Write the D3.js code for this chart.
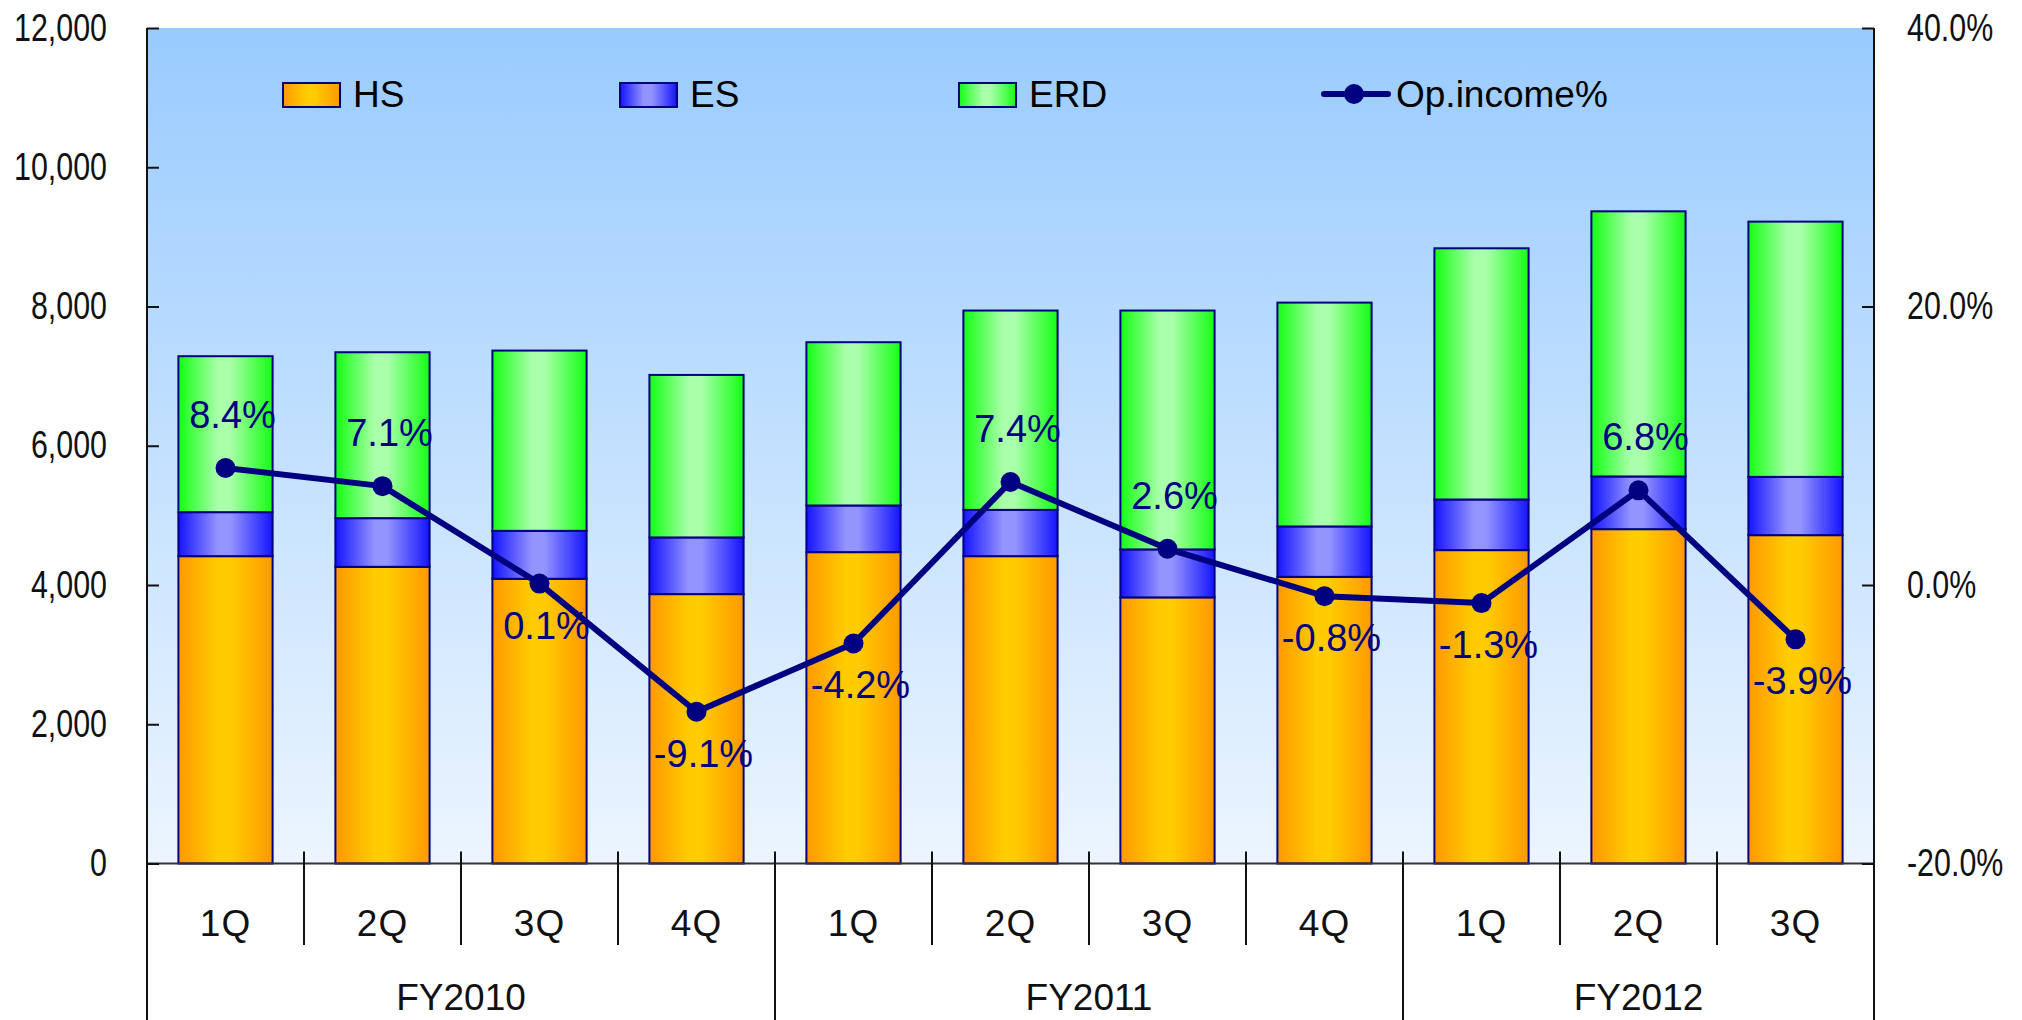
<!DOCTYPE html>
<html>
<head>
<meta charset="utf-8">
<script src="https://cdn.jsdelivr.net/npm/d3@7"></script>
<style>
  html, body { margin: 0; padding: 0; background: #ffffff; }
  svg { display: block; }
</style>
</head>
<body>
<svg id="chart" width="2022" height="1020"></svg>
<script>
// ---------------- data ----------------
const quarters    = ["1Q","2Q","3Q","4Q","1Q","2Q","3Q","4Q","1Q","2Q","3Q"];
const fiscalYears = ["FY2010","FY2010","FY2010","FY2010","FY2011","FY2011","FY2011","FY2011","FY2012","FY2012","FY2012"];
const seriesNames = ["HS","ES","ERD"];
const hsValues  = [4414, 4261, 4089, 3869, 4472, 4414, 3822, 4117, 4501, 4802, 4716];
const esValues  = [ 632,  699,  689,  814,  670,  665,  689,  724,  727,  757,  837];
const erdValues = [2240, 2383, 2589, 2334, 2345, 2863, 3431, 3215, 3608, 3808, 3666];
const opIncomePct = [8.4, 7.1, 0.1, -9.1, -4.2, 7.4, 2.6, -0.8, -1.3, 6.8, -3.9];
const lineName = "Op.income%";
const leftTicks = [0, 2000, 4000, 6000, 8000, 10000, 12000];
const rightTicks = [-20, 0, 20, 40];
const rightTickLabels = ["-20.0%", "0.0%", "20.0%", "40.0%"];

// ---------------- layout ----------------
const W = 2022, H = 1020;
const plot = { left: 147, right: 1874, top: 28, bottom: 863.5 };
const mainFont = "'Liberation Sans',Arial,Helvetica,sans-serif";
const navy = "#000080";

const svg = d3.select("#chart");
const defs = svg.append("defs");

// condense a text horizontally (narrow face look)
function condense(sel, factor) {
  sel.each(function () {
    const w = this.getComputedTextLength();
    d3.select(this).attr("textLength", w * factor).attr("lengthAdjust", "spacingAndGlyphs");
  });
}

// gradients
const bg = defs.append("linearGradient").attr("id", "bgGrad")
  .attr("x1", 0).attr("y1", 0).attr("x2", 0).attr("y2", 1);
bg.append("stop").attr("offset", "0%").attr("stop-color", "#99cbff");
bg.append("stop").attr("offset", "100%").attr("stop-color", "#ecf5ff");

const barGrads = {
  HS:  ["#ff9900", "#ffcc00", "#ff9900"],
  ES:  ["#1414ff", "#9494ff", "#1414ff"],
  ERD: ["#14ff14", "#aaffaa", "#14ff14"]
};
Object.entries(barGrads).forEach(([k, c]) => {
  const g = defs.append("linearGradient").attr("id", "grad" + k)
    .attr("x1", 0).attr("y1", 0).attr("x2", 1).attr("y2", 0);
  g.append("stop").attr("offset", "0%").attr("stop-color", c[0]);
  g.append("stop").attr("offset", "42%").attr("stop-color", c[1]);
  g.append("stop").attr("offset", "55%").attr("stop-color", c[1]);
  g.append("stop").attr("offset", "100%").attr("stop-color", c[2]);
});

// scales
const idx = d3.range(quarters.length);
const xCat = d3.scaleBand().domain(idx).range([plot.left, plot.right]).padding(0);
const xBar = d3.scaleBand().domain(idx).range([plot.left, plot.right])
  .paddingInner(0.4).paddingOuter(0.2);
const yL = d3.scaleLinear().domain([0, 12000]).range([plot.bottom, plot.top]);
const yR = d3.scaleLinear().domain([-20, 40]).range([plot.bottom, plot.top]);

// plot background
svg.append("rect")
  .attr("x", plot.left).attr("y", plot.top)
  .attr("width", plot.right - plot.left).attr("height", plot.bottom - plot.top)
  .attr("fill", "url(#bgGrad)");

// stacked bars
const rows = idx.map(i => ({ i, HS: hsValues[i], ES: esValues[i], ERD: erdValues[i] }));
const stacked = d3.stack().keys(seriesNames)(rows);
svg.append("g").selectAll("g").data(stacked).join("g")
  .attr("fill", d => "url(#grad" + d.key + ")")
  .selectAll("rect").data(d => d).join("rect")
  .attr("x", d => xBar(d.data.i))
  .attr("width", xBar.bandwidth())
  .attr("y", d => yL(d[1]))
  .attr("height", d => yL(d[0]) - yL(d[1]))
  .attr("stroke", navy).attr("stroke-width", 2);

// baseline
svg.append("line")
  .attr("x1", plot.left).attr("x2", plot.right)
  .attr("y1", yL(0)).attr("y2", yL(0))
  .attr("stroke", "#333").attr("stroke-width", 2);

// left axis
const axL = svg.append("g").attr("transform", `translate(${plot.left},0)`)
  .call(d3.axisLeft(yL).tickValues(leftTicks).tickFormat(d3.format(","))
    .tickSizeInner(-12).tickSizeOuter(0).tickPadding(40));
axL.select(".domain").remove();
axL.selectAll(".tick line").attr("stroke", "#111").attr("stroke-width", 2);
axL.selectAll(".tick text").attr("font-family", mainFont).attr("font-size", 38).attr("fill", "#111")
  .call(condense, 0.8);

// right axis
const axR = svg.append("g").attr("transform", `translate(${plot.right},0)`)
  .call(d3.axisRight(yR).tickValues(rightTicks).tickFormat((d, i) => rightTickLabels[i])
    .tickSizeInner(-12).tickSizeOuter(0).tickPadding(33));
axR.select(".domain").remove();
axR.selectAll(".tick line").attr("stroke", "#111").attr("stroke-width", 2);
axR.selectAll(".tick text").attr("font-family", mainFont).attr("font-size", 38).attr("fill", "#111")
  .call(condense, 0.8);

// vertical axis lines (extend through category area)
[plot.left, plot.right].forEach(x => {
  svg.append("line").attr("x1", x).attr("x2", x)
    .attr("y1", plot.top).attr("y2", H)
    .attr("stroke", "#111").attr("stroke-width", 2);
});

// category separators
const groupStarts = idx.filter(i => i > 0 && fiscalYears[i] !== fiscalYears[i - 1]);
idx.filter(i => i > 0).forEach(i => {
  const x = xCat(i);
  const isGroup = groupStarts.includes(i);
  svg.append("line").attr("x1", x).attr("x2", x)
    .attr("y1", yL(0) - 12).attr("y2", isGroup ? H : 945)
    .attr("stroke", "#111").attr("stroke-width", 2);
});

// quarter labels
svg.append("g").selectAll("text").data(idx).join("text")
  .attr("x", i => xCat(i) + xCat.bandwidth() / 2)
  .attr("y", 936)
  .attr("text-anchor", "middle")
  .attr("font-family", mainFont).attr("font-size", 37).attr("fill", "#111")
  .attr("letter-spacing", 1)
  .text(i => quarters[i]);

// fiscal year labels
const fyGroups = Array.from(d3.group(idx, i => fiscalYears[i]), ([k, v]) => ({ k, first: v[0], last: v[v.length - 1] }));
svg.append("g").selectAll("text").data(fyGroups).join("text")
  .attr("x", g => (xCat(g.first) + xCat(g.last) + xCat.bandwidth()) / 2)
  .attr("y", 1010)
  .attr("text-anchor", "middle")
  .attr("font-family", mainFont).attr("font-size", 37).attr("fill", "#111")
  .text(g => g.k);

// op income line
const cx = i => xCat(i) + xCat.bandwidth() / 2;
svg.append("path")
  .attr("d", d3.line().x(i => cx(i)).y(i => yR(opIncomePct[i]))(idx))
  .attr("fill", "none").attr("stroke", navy).attr("stroke-width", 6)
  .attr("stroke-linejoin", "round");
svg.append("g").selectAll("circle").data(idx).join("circle")
  .attr("cx", i => cx(i)).attr("cy", i => yR(opIncomePct[i]))
  .attr("r", 10).attr("fill", navy);

// point labels
svg.append("g").selectAll("text").data(idx).join("text")
  .attr("x", i => cx(i) + 7)
  .attr("y", i => yR(opIncomePct[i]) + (opIncomePct[i] >= 1 ? -40 : 55))
  .attr("text-anchor", "middle")
  .attr("font-family", mainFont).attr("font-size", 38).attr("fill", navy)
  .text(i => opIncomePct[i].toFixed(1) + "%");

// legend
const legendItems = [
  { name: seriesNames[0], type: "bar", x: 283 },
  { name: seriesNames[1], type: "bar", x: 620 },
  { name: seriesNames[2], type: "bar", x: 959 },
  { name: lineName, type: "line", x: 1324 }
];
const lg = svg.append("g");
legendItems.forEach(it => {
  if (it.type === "bar") {
    lg.append("rect").attr("x", it.x).attr("y", 83).attr("width", 57).attr("height", 24)
      .attr("fill", "url(#grad" + it.name + ")").attr("stroke", navy).attr("stroke-width", 2);
    lg.append("text").attr("x", it.x + 70).attr("y", 107)
      .attr("font-family", mainFont).attr("font-size", 37).attr("fill", "#000").text(it.name);
  } else {
    lg.append("line").attr("x1", it.x).attr("x2", it.x + 64).attr("y1", 94).attr("y2", 94)
      .attr("stroke", navy).attr("stroke-width", 6).attr("stroke-linecap", "round");
    lg.append("circle").attr("cx", it.x + 30).attr("cy", 94).attr("r", 10).attr("fill", navy);
    lg.append("text").attr("x", it.x + 72).attr("y", 107)
      .attr("font-family", mainFont).attr("font-size", 37).attr("fill", "#000").text(it.name);
  }
});
</script>
</body>
</html>
